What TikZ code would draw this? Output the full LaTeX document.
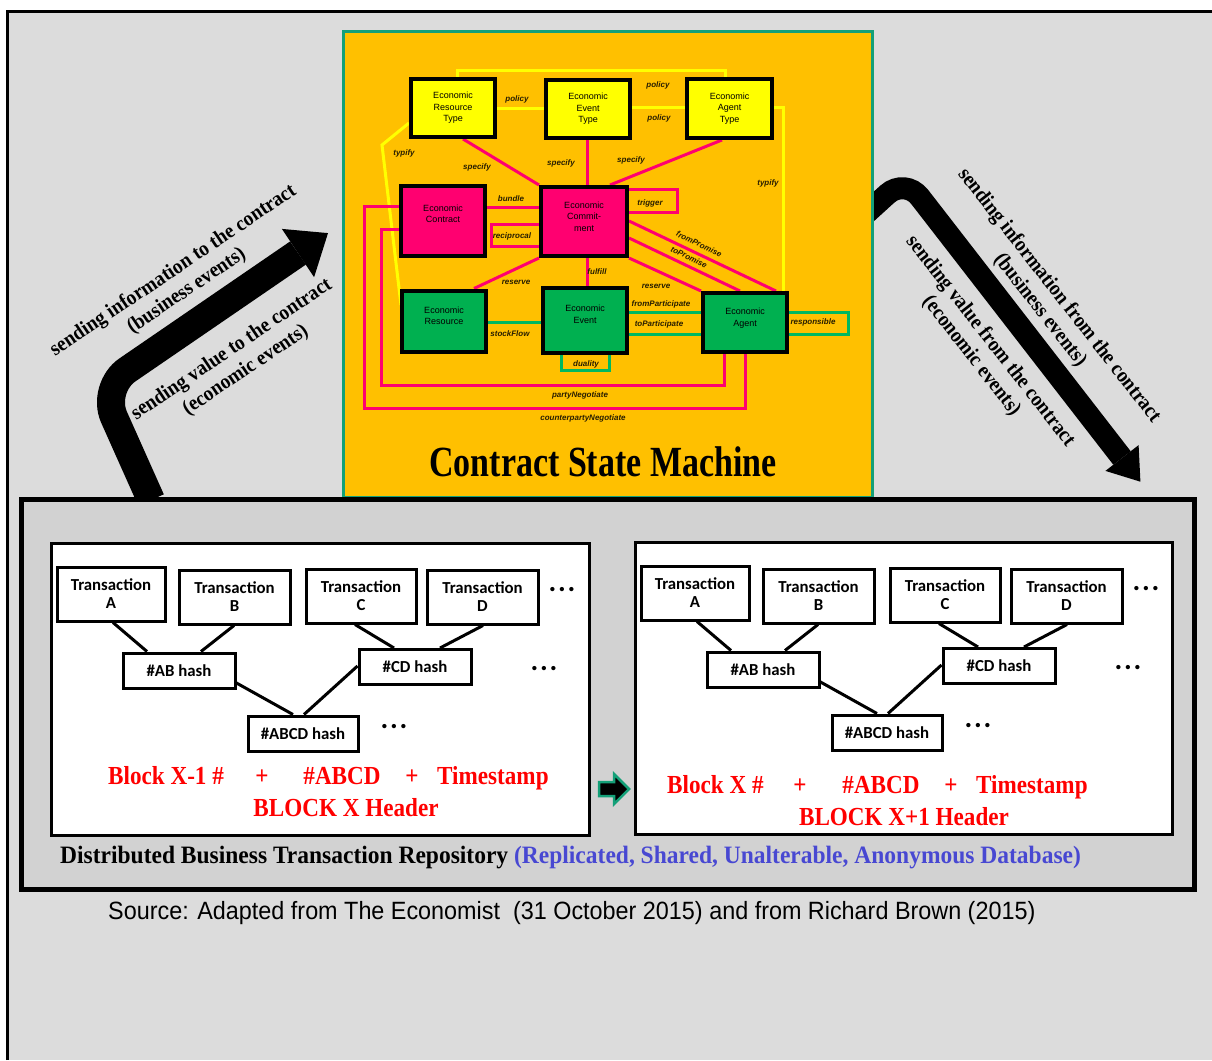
\documentclass[tikz,border=0pt]{standalone}
\usepackage{fontspec}
\setmainfont{Liberation Serif}
\newfontfamily\titlefont[FakeStretch=0.79]{Liberation Serif}
\newfontfamily\headerfont[FakeStretch=0.89]{Liberation Serif}
\newfontfamily\repofont[FakeStretch=0.94]{Liberation Serif}
\newfontfamily\flowfont[FakeStretch=0.92]{Liberation Serif}
\newfontfamily\reafont{Liberation Sans}
\newfontfamily\sourcefont[FakeStretch=0.935]{Liberation Sans}
\newfontfamily\ledgerfont{Carlito}

\definecolor{pagegray}{RGB}{220,220,220}
\definecolor{repogray}{RGB}{210,210,210}
\definecolor{smorange}{RGB}{255,192,0}
\definecolor{smteal}{RGB}{20,160,120}
\definecolor{reapink}{RGB}{255,0,112}
\definecolor{reagreen}{RGB}{0,176,80}
\definecolor{linkgreen}{RGB}{0,184,96}
\definecolor{reayellow}{RGB}{255,255,0}
\definecolor{dbblue}{RGB}{72,72,210}
\definecolor{labelink}{RGB}{40,30,0}

\pgfdeclarelayer{back}
\pgfdeclarelayer{links}
\pgfsetlayers{back,links,main}

% multi-line box caption, optionally lifted without changing its size
\newcommand\boxlines[2]{\raisebox{#1}[\height][\depth]{\begin{tabular}{@{}c@{}}#2\end{tabular}}}

% one block of transactions with its hash tree; #1 name prefix, #2/#3 offset
\newcommand\merkletree[3]{%
\begin{scope}[shift={(#2,#3)}]
  \node[txbox, minimum width=108pt] (#1ta) at (111,594) {Transaction\\A};
  \node[txbox, minimum width=111pt] (#1tb) at (234.5,597) {Transaction\\B};
  \node[txbox, minimum width=110pt] (#1tc) at (361,596) {Transaction\\C};
  \node[txbox, minimum width=111pt] (#1td) at (482.5,597) {Transaction\\D};
  \node[hashbox] (#1hab) at (179,670.5) {\#AB hash};
  \node[hashbox] (#1hcd) at (415,667) {\#CD hash};
  \node[hashbox, minimum width=110pt] (#1habcd) at (303,733.5) {\#ABCD hash};
  \draw[treeedge] (113,0 |- #1ta.south) -- (147,0 |- #1hab.north);
  \draw[treeedge] (234,0 |- #1tb.south) -- (201,0 |- #1hab.north);
  \draw[treeedge] (355,0 |- #1tc.south) -- (394,0 |- #1hcd.north);
  \draw[treeedge] (483,0 |- #1td.south) -- (440,0 |- #1hcd.north);
  \draw[treeedge] (#1hab.east |- 0,683) -- (293,0 |- #1habcd.north);
  \draw[treeedge] (#1hcd.west |- 0,666) -- (304,0 |- #1habcd.north);
  \node[morebullets] (#1more1) at (562,591) {\textbullet\ \textbullet\ \textbullet};
  \node[morebullets] (#1more2) at (544,670) {\textbullet\ \textbullet\ \textbullet};
  \node[morebullets] (#1more3) at (394,728) {\textbullet\ \textbullet\ \textbullet};
\end{scope}}

\begin{document}
\begin{tikzpicture}[x=1pt, y=-1pt,
  reabox/.style={draw=black, line width=4pt, inner sep=0pt, text=black, font=\reafont\fontsize{9}{11.5}\selectfont},
  typebox/.style={reabox, fill=reayellow},
  commitbox/.style={reabox, fill=reapink},
  flowbox/.style={reabox, fill=reagreen},
  ylink/.style={draw=reayellow, line width=3pt},
  plink/.style={draw=reapink, line width=3pt},
  glink/.style={draw=linkgreen, line width=3pt},
  rel/.style={inner sep=0pt, text=labelink, font=\reafont\bfseries\itshape\fontsize{8}{9}\selectfont},
  txbox/.style={draw=black, line width=3pt, fill=white, inner sep=0pt, minimum height=54pt, align=center, font=\ledgerfont\bfseries\fontsize{16.8}{18}\selectfont},
  hashbox/.style={draw=black, line width=3pt, fill=white, inner sep=0pt, minimum width=112pt, minimum height=35pt, font=\ledgerfont\bfseries\fontsize{16.8}{18}\selectfont},
  treeedge/.style={draw=black, line width=3pt},
  morebullets/.style={inner sep=0pt, font=\reafont\bfseries\fontsize{15}{15}\selectfont},
  hdr/.style={inner sep=0pt, text=red, font=\headerfont\bfseries\fontsize{26}{30}\selectfont},
  bigshaft/.style={draw=black, line cap=butt},
  flowtext/.style={inner sep=0pt, align=center, font=\flowfont\bfseries\fontsize{21}{24}\selectfont},
  blockframe/.style={draw=black, line width=3pt, fill=white, inner sep=0pt, minimum width=538pt, minimum height=292pt},
]
\useasboundingbox (0,0) rectangle (1212,1060);

\begin{pgfonlayer}{back}
  % page and its frame
  \fill[white] (0,0) rectangle (1212,1060);
  \fill[pagegray] (7.5,11.5) rectangle (1212,1060);
  \draw[line width=3pt] (7.5,1060) -- (7.5,11.5) -- (1212,11.5);
  % bent arrow into the contract
  \coordinate (inTail) at (151,500);
  \coordinate (inBend) at (101,388);
  \coordinate (inBase) at (298,253);
  \draw[bigshaft, line width=28pt, rounded corners=32pt] (inTail) -- (inBend) -- (inBase);
  \fill (281.9,228.9) -- (328,233.1) -- (314.1,277.2) -- cycle;
  % bent arrow out of the contract
  \coordinate (outTail) at (860,219);
  \coordinate (outBend) at (905,178);
  \coordinate (outBase) at (1122,458);
  \draw[bigshaft, line width=22pt, rounded corners=24pt] (outTail) -- (outBend) -- (outBase);
  \fill (1138.6,445.1) -- (1140.4,481.7) -- (1105.4,470.9) -- cycle;
  % contract state machine panel
  \node[draw=smteal, line width=3pt, fill=smorange, inner sep=0pt, minimum width=529pt, minimum height=466pt] (csm) at (607.5,264) {};
  % repository panel and its two blocks
  \node[draw=black, line width=5pt, fill=repogray, inner sep=0pt, minimum width=1173pt, minimum height=390pt] (repo) at (607.5,694) {};
  \node[blockframe] (blockL) at (320,689) {};
  \node[blockframe, minimum width=537pt] (blockR) at (903.5,688) {};
\end{pgfonlayer}

% REA model boxes
\node[typebox, minimum width=84pt, minimum height=58pt] (ert) at (453,108) {\boxlines{0pt}{Economic\\Resource\\Type}};
\node[typebox, minimum width=84pt, minimum height=58pt] (eet) at (588,109) {\boxlines{0pt}{Economic\\Event\\Type}};
\node[typebox, minimum width=85pt, minimum height=59pt] (eat) at (729.5,108.5) {\boxlines{0pt}{Economic\\Agent\\Type}};
\node[commitbox, minimum width=84pt, minimum height=70pt] (ec) at (443,220.5) {\boxlines{6pt}{Economic\\Contract}};
\node[commitbox, minimum width=86pt, minimum height=69pt] (ecm) at (584,221.5) {\boxlines{4pt}{Economic\\Commit-\\ment}};
\node[flowbox, minimum width=84pt, minimum height=61pt] (er) at (444,321) {\boxlines{4.5pt}{Economic\\Resource}};
\node[flowbox, minimum width=84pt, minimum height=65pt] (ee) at (585,320) {\boxlines{5pt}{Economic\\Event}};
\node[flowbox, minimum width=84pt, minimum height=59pt] (ea) at (745,322.5) {\boxlines{4.5pt}{Economic\\Agent}};

\begin{pgfonlayer}{links}
  % type-level links
  \draw[ylink] (457,0 |- ert.north) -- (457,70) -- (725,70) -- (725,0 |- eat.north);
  \draw[ylink] (ert.east |- 0,108) -- (eet.west |- 0,108);
  \draw[ylink] (eet.east |- 0,107) -- (eat.west |- 0,107);
  \draw[ylink] (eat.east |- 0,107) -- (783,107) -- (783,0 |- ea.north);
  \draw[ylink] (ert.west |- 0,123) -- (382,145) -- (401,305);
  % commitment links
  \draw[plink] (463,0 |- ert.south) -- (ecm.north west);
  \draw[plink] (587,0 |- eet.south) -- (587,0 |- ecm.north);
  \draw[plink] (722,0 |- eat.south) -- (610,0 |- ecm.north);
  \draw[plink] (ec.east |- 0,207) -- (ecm.west |- 0,207);
  \draw[plink] (ecm.west |- 0,224) -- (491,224) -- (491,246) -- (ecm.west |- 0,246);
  \draw[plink] (ecm.east |- 0,189) -- (677,189) -- (677,212) -- (ecm.east |- 0,212);
  \draw[plink] (ecm.south west) -- (474,0 |- er.north);
  \draw[plink] (587,0 |- ecm.south) -- (587,0 |- ee.north);
  \draw[plink] (ecm.east |- 0,221) -- (776,0 |- ea.north);
  \draw[plink] (ecm.east |- 0,238) -- (740,0 |- ea.north);
  \draw[plink] (ecm.south east) -- (ea.north west);
  \draw[plink] (ec.west |- 0,229) -- (381,229) -- (381,385) -- (724,385) -- (724,0 |- ea.south);
  \draw[plink] (ec.west |- 0,206) -- (364,206) -- (364,408) -- (745,408) -- (745,0 |- ea.south);
  % flow links
  \draw[glink] (er.east |- 0,322) -- (ee.west |- 0,322);
  \draw[glink] (561,0 |- ee.south) -- (561,370) -- (609,370) -- (609,0 |- ee.south);
  \draw[glink] (ee.east |- 0,312) -- (ea.west |- 0,312);
  \draw[glink] (ee.east |- 0,334) -- (ea.west |- 0,334);
  \draw[glink] (ea.east |- 0,312) -- (848,312) -- (848,334) -- (ea.east |- 0,334);
\end{pgfonlayer}

% relationship names
\node[rel] (lpolicyA) at (658,85) {policy};
\node[rel] (lpolicyB) at (517,99) {policy};
\node[rel] (lpolicyC) at (659,118) {policy};
\node[rel] (ltypifyA) at (404,153) {typify};
\node[rel] (ltypifyB) at (768,183) {typify};
\node[rel] (lspecA) at (477,167) {specify};
\node[rel] (lspecB) at (561,163) {specify};
\node[rel] (lspecC) at (631,160) {specify};
\node[rel] (lbundle) at (511,199) {bundle};
\node[rel] (lrecip) at (512,236) {reciprocal};
\node[rel] (ltrigger) at (650,203) {trigger};
\node[rel] (lreserveA) at (516,282) {reserve};
\node[rel] (lfulfill) at (597,272) {fulfill};
\node[rel, rotate=-25.5] (lfromprom) at (699,244) {fromPromise};
\node[rel, rotate=-25.5] (ltoprom) at (689,257) {toPromise};
\node[rel] (lreserveB) at (656,286) {reserve};
\node[rel] (lstock) at (510,334) {stockFlow};
\node[rel] (lduality) at (586,364) {duality};
\node[rel] (lfrompart) at (661,304) {fromParticipate};
\node[rel] (ltopart) at (659,324) {toParticipate};
\node[rel] (lresp) at (813,322) {responsible};
\node[rel] (lparty) at (580,395) {partyNegotiate};
\node[rel] (lcounter) at (583,418) {counterpartyNegotiate};

\node[anchor=base, inner sep=0pt, font=\titlefont\bfseries\fontsize{43}{48}\selectfont] (csmtitle) at (603,476) {Contract State Machine};

% captions of the two bent arrows
\node[flowtext, rotate=34] (inInfo) at (180,281) {sending information to the contract\\(business events)};
\node[flowtext, rotate=34, font=\flowfont\bfseries\fontsize{21}{25}\selectfont] (inValue) at (238.75,360) {sending value to the contract\\(economic events)};
\node[flowtext, rotate=-52] (outInfo) at (1049.5,303) {sending information from the contract\\(business events)};
\node[flowtext, rotate=-52] (outValue) at (980.75,348.75) {sending value from the contract\\(economic events)};

% the two blocks of the chain
\merkletree{L}{0}{0}
\merkletree{R}{584}{-1}

% link from one block to the next
\filldraw[fill=black, draw=smteal, line width=2.5pt, line join=miter] (599,782) -- (614,782) -- (614,774) -- (629,789) -- (614,804) -- (614,796) -- (599,796) -- cycle;

% block headers
\node[hdr, anchor=base west] (hdrLprev) at (108,784) {Block X-1 \#};
\node[hdr, anchor=base] (hdrLplusA) at (262,784) {+};
\node[hdr, anchor=base] (hdrLroot) at (342,784) {\#ABCD};
\node[hdr, anchor=base] (hdrLplusB) at (412,784) {+};
\node[hdr, anchor=base west] (hdrLtime) at (437,784) {Timestamp};
\node[hdr, anchor=base] (hdrLname) at (346,816.5) {BLOCK X Header};
\node[hdr, anchor=base west] (hdrRprev) at (667,793) {Block X \#};
\node[hdr, anchor=base] (hdrRplusA) at (800,793) {+};
\node[hdr, anchor=base] (hdrRroot) at (881,793) {\#ABCD};
\node[hdr, anchor=base] (hdrRplusB) at (951,793) {+};
\node[hdr, anchor=base west] (hdrRtime) at (976,793) {Timestamp};
\node[hdr, anchor=base] (hdrRname) at (904,825.5) {BLOCK X+1 Header};

\node[anchor=base west, inner sep=0pt, font=\repofont\bfseries\fontsize{25}{28}\selectfont] (repotitle) at (60,863)
  {Distributed Business Transaction Repository \textcolor{dbblue}{(Replicated, Shared, Unalterable, Anonymous Database)}};

\node[anchor=base west, inner sep=0pt, font=\sourcefont\fontsize{25}{28}\selectfont] (source) at (108,919)
  {Source: Adapted from The Economist\ \ (31 October 2015) and from Richard Brown (2015)};
\end{tikzpicture}
\end{document}
